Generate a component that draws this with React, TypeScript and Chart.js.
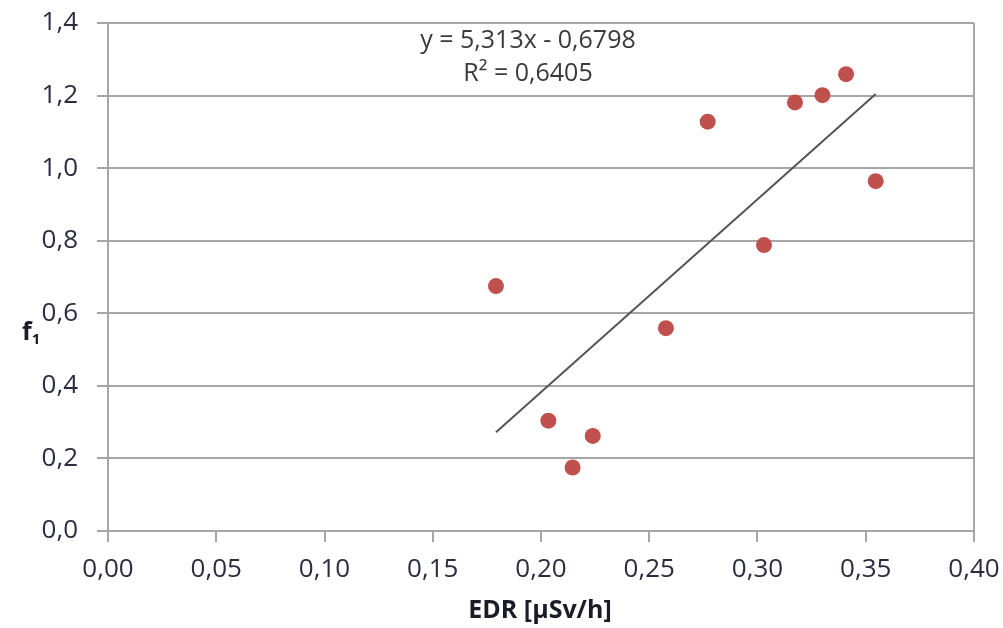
import React, { useEffect, useRef } from "react";
import { Chart, registerables } from "chart.js";

Chart.register(...registerables);

const edrValues = [0.1792, 0.2034, 0.2146, 0.2239, 0.2577, 0.277, 0.303, 0.3173, 0.330, 0.3409, 0.3546];
const f1Values = [0.675, 0.304, 0.175, 0.262, 0.559, 1.128, 0.788, 1.181, 1.201, 1.259, 0.964];
const trendSlope = 5.313;
const trendIntercept = -0.6798;
const equationLines = ["y = 5,313x - 0,6798", "R² = 0,6405"];
const xTitle = "EDR [µSv/h]";
const yTitleMain = "f";
const yTitleSub = "1";

const FONT = "'Open Sans', 'DejaVu Sans', sans-serif";
const GRID = "#a6a6a6";

export default function App() {
  const ref = useRef<HTMLCanvasElement | null>(null);

  useEffect(() => {
    if (!ref.current) return;
    const minX = Math.min(...edrValues);
    const maxX = Math.max(...edrValues);
    const points = edrValues.map((x, i) => ({ x, y: f1Values[i] }));
    const trend = [
      { x: minX, y: trendSlope * minX + trendIntercept },
      { x: maxX, y: trendSlope * maxX + trendIntercept },
    ];

    const textPlugin = {
      id: "texts",
      afterDraw(chart: any) {
        const ctx = chart.ctx;
        const ca = chart.chartArea;
        ctx.save();
        ctx.strokeStyle = GRID;
        ctx.lineWidth = 2;
        ctx.beginPath();
        ctx.moveTo(ca.right, ca.top);
        ctx.lineTo(ca.right, ca.bottom);
        ctx.stroke();

        ctx.fillStyle = "#3a3a3a";
        ctx.font = `25px ${FONT}`;
        ctx.textAlign = "center";
        ctx.textBaseline = "middle";
        ctx.fillText(equationLines[0], 528, 41);
        ctx.fillText(equationLines[1], 528, 74);

        ctx.fillStyle = "#1c1c28";
        ctx.font = `bold 25px ${FONT}`;
        ctx.fillText(xTitle, 540, 611);

        ctx.textAlign = "left";
        ctx.font = `bold 25px ${FONT}`;
        const w = ctx.measureText(yTitleMain).width;
        ctx.fillText(yTitleMain, 22, 333);
        ctx.font = `bold 15px ${FONT}`;
        ctx.fillText(yTitleSub, 22 + w, 340);
        ctx.restore();
      },
    };

    const chart = new Chart(ref.current, {
      type: "scatter",
      data: {
        datasets: [
          {
            type: "line",
            data: trend,
            borderColor: "#555555",
            borderWidth: 2,
            pointRadius: 0,
            fill: false,
            order: 2,
          } as any,
          {
            type: "scatter",
            data: points,
            backgroundColor: "#c0504d",
            borderWidth: 0,
            pointRadius: 8,
            order: 1,
          },
        ],
      },
      options: {
        animation: false,
        responsive: false,
        layout: { padding: { top: 23, right: 29, left: 0, bottom: 0 } },
        plugins: { legend: { display: false }, tooltip: { enabled: false } },
        scales: {
          x: {
            type: "linear",
            min: 0,
            max: 0.4,
            afterFit: (s: any) => {
              s.height = 97;
              s.paddingLeft = 0;
              s.paddingRight = 0;
            },
            ticks: {
              stepSize: 0.05,
              padding: 12,
              color: "#2c2c40",
              font: { family: FONT, size: 26 },
              callback: (v: any) => Number(v).toFixed(2).replace(".", ","),
            },
            grid: {
              drawOnChartArea: false,
              drawTicks: true,
              tickLength: 11,
              color: GRID,
              lineWidth: 2,
            },
            border: { color: GRID, width: 2 },
          },
          y: {
            type: "linear",
            min: 0,
            max: 1.4,
            afterFit: (s: any) => {
              s.width = 108;
              s.paddingTop = 0;
              s.paddingBottom = 0;
            },
            ticks: {
              stepSize: 0.2,
              padding: 19,
              color: "#2c2c40",
              font: { family: FONT, size: 26 },
              callback: (v: any) => Number(v).toFixed(1).replace(".", ","),
            },
            grid: {
              drawTicks: true,
              tickLength: 11,
              color: GRID,
              lineWidth: 2,
            },
            border: { color: GRID, width: 2 },
          },
        },
      },
      plugins: [textPlugin],
    });
    return () => chart.destroy();
  }, []);

  return (
    <div style={{ position: "absolute", left: 0, top: 0, width: 1003, height: 628, background: "#fff" }}>
      <canvas ref={ref} width={1003} height={628} style={{ display: "block" }} />
    </div>
  );
}
